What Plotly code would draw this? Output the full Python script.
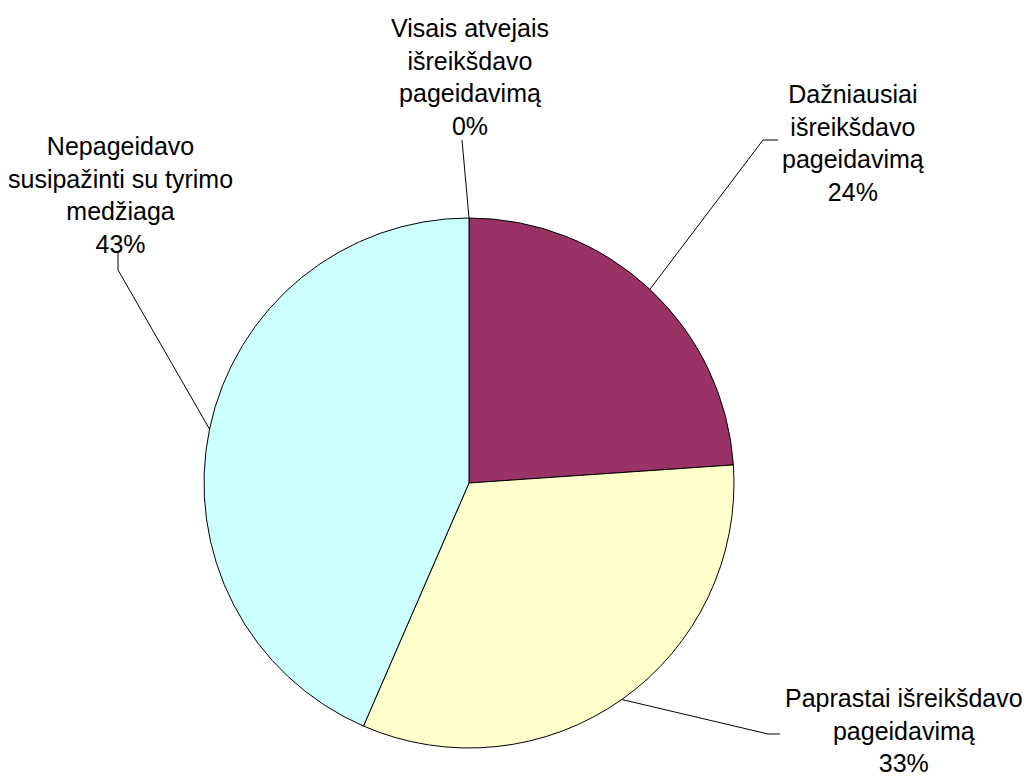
import math
import plotly.graph_objects as go

# Data
categories = [
    "Visais atvejais<br>išreikšdavo<br>pageidavimą",
    "Dažniausiai<br>išreikšdavo<br>pageidavimą",
    "Paprastai išreikšdavo<br>pageidavimą",
    "Nepageidavo<br>susipažinti su tyrimo<br>medžiaga",
]
counts = [0, 11, 15, 20]
colors = ["#FFFFFF", "#993366", "#FFFFCC", "#CCFFFF"]

# page has an 8px body margin; figure extends to the window's right/bottom edge
OFF = 8
W, H = 1031 - OFF, 780 - OFF
CX, CY, R = 469 - OFF, 483 - OFF, 265

# label layout (reference pixel positions): label centre, elbow, end point
label_pos = [(470, 77), (853, 143), (904, 730), (120, 195)]
elbows = [(462, 140), (763, 140), (768, 734), (118, 270)]
ends = [(462, 140), (778, 140), (780, 734), (118, 253)]

def px(x):
    return x / W

def py(y):
    return 1 - y / H

fig = go.Figure(go.Pie(
    labels=[c.replace("<br>", " ") for c in categories],
    values=counts,
    sort=False,
    direction="clockwise",
    rotation=0,
    marker=dict(colors=colors, line=dict(color="#000000", width=1)),
    textinfo="none",
    hoverinfo="skip",
    showlegend=False,
    domain=dict(x=[px(CX - R), px(CX + R)], y=[py(CY + R), py(CY - R)]),
))

total = sum(counts)
cum = 0
annotations = []
shapes = []
for i, (cat, v) in enumerate(zip(categories, counts)):
    mid = (cum + v / 2) / total * 2 * math.pi
    cum += v
    sx = CX + R * math.sin(mid)
    sy = CY - R * math.cos(mid)
    ex, ey = elbows[i][0] - OFF, elbows[i][1] - OFF
    fx, fy = ends[i][0] - OFF, ends[i][1] - OFF
    path = f"M {px(sx)},{py(sy)} L {px(ex)},{py(ey)} L {px(fx)},{py(fy)}"
    shapes.append(dict(type="path", xref="paper", yref="paper", path=path,
                       line=dict(color="#000000", width=1)))
    pct = round(100 * v / total)
    lx, ly = label_pos[i][0] - OFF, label_pos[i][1] - OFF
    annotations.append(dict(
        x=px(lx), y=py(ly), xref="paper", yref="paper",
        text=f"{cat}<br>{pct}%", showarrow=False,
        xanchor="center", yanchor="middle", align="center",
        font=dict(family="Liberation Sans, Arial, sans-serif", size=25, color="#000000"),
    ))

fig.update_layout(
    width=W, height=H,
    margin=dict(l=0, r=0, t=0, b=0),
    paper_bgcolor="#FFFFFF",
    plot_bgcolor="#FFFFFF",
    annotations=annotations,
    shapes=shapes,
)

fig.write_html("out.html")
